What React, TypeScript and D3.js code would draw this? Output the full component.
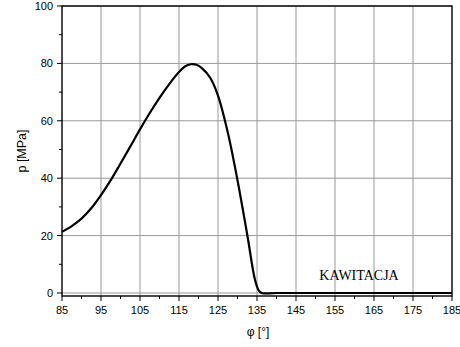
import React from "react";
import * as d3 from "d3";

const phi = [85, 87.5, 90, 92.5, 95, 97.5, 100, 102.5, 105, 107.5, 110, 112.5, 115, 116.5, 118, 119.5, 121, 123, 125, 127.5, 130, 132.5, 134.5, 135.4, 136.2, 140, 185];
const pressure = [21.3, 23.3, 25.9, 29.5, 34.1, 39.3, 45.1, 51, 57, 62.7, 68, 72.8, 77, 78.9, 79.7, 79.5, 78.2, 75, 68.8, 56, 39.3, 20.3, 4.5, 1, 0, 0, 0];
const xTicks = [85, 95, 105, 115, 125, 135, 145, 155, 165, 175, 185];
const yTicks = [0, 20, 40, 60, 80, 100];
const xMinor = d3.range(90, 185, 10);
const yMinor = [10, 30, 50, 70, 90];

const W = 460, H = 347;
const L = 62, R = 452, T = 6, B = 296;

export default function App() {
  const x = d3.scaleLinear().domain([85, 185]).range([L, R]);
  const y = d3.scaleLinear().domain([-1.05, 100]).range([B, T]);
  const pts = phi.map((p, i) => [p, pressure[i]] as [number, number]);
  const line = d3.line<[number, number]>().x(d => x(d[0])).y(d => y(d[1])).curve(d3.curveCatmullRom.alpha(0.5));
  const font = "'Liberation Sans', Arial, sans-serif";
  return (
    <svg width={W} height={H} style={{ position: "absolute", left: 0, top: 0, background: "#fff" }}>
      <rect width={W} height={H} fill="#fff" />
      {xTicks.slice(1, -1).map(t => (
        <line key={"gx" + t} x1={x(t)} x2={x(t)} y1={T} y2={B} stroke="#999" strokeWidth={1} />
      ))}
      {yTicks.map(t => (
        <line key={"gy" + t} x1={L} x2={R} y1={y(t)} y2={y(t)} stroke="#999" strokeWidth={1} />
      ))}
      <rect x={L} y={T} width={R - L} height={B - T} fill="none" stroke="#000" strokeWidth={1.4} />
      {xTicks.map(t => (
        <g key={"xt" + t}>
          <line x1={x(t)} x2={x(t)} y1={B} y2={B + 5} stroke="#000" />
          <text x={x(t)} y={314} textAnchor="middle" fontFamily={font} fontSize={11}>{t}</text>
        </g>
      ))}
      {xMinor.map(t => (
        <line key={"xm" + t} x1={x(t)} x2={x(t)} y1={B} y2={B + 3} stroke="#000" />
      ))}
      {yTicks.map(t => (
        <g key={"yt" + t}>
          <line x1={L - 5} x2={L} y1={y(t)} y2={y(t)} stroke="#000" />
          <text x={53} y={y(t) + 4} textAnchor="end" fontFamily={font} fontSize={11}>{t}</text>
        </g>
      ))}
      {yMinor.map(t => (
        <line key={"ym" + t} x1={L - 3} x2={L} y1={y(t)} y2={y(t)} stroke="#000" />
      ))}
      <path d={line(pts) || ""} fill="none" stroke="#000" strokeWidth={2.2} strokeLinejoin="round" />
      <text x={359} y={280} textAnchor="middle" fontFamily="'Liberation Serif', 'Times New Roman', serif" fontSize={14}>KAWITACJA</text>
      <text x={258} y={336} textAnchor="middle" fontFamily={font} fontSize={12}>φ [°]</text>
      <text transform={`translate(26,${(T + B) / 2}) rotate(-90)`} textAnchor="middle" fontFamily={font} fontSize={12.5}>p [MPa]</text>
    </svg>
  );
}
